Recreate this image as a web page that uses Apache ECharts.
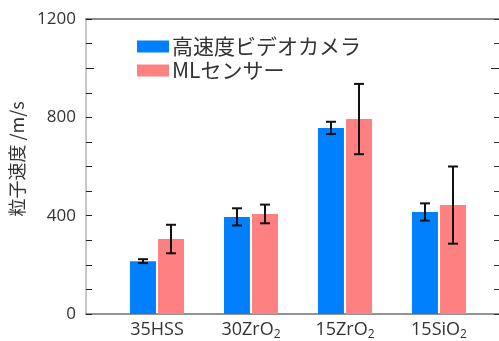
<!DOCTYPE html>
<html>
<head>
<meta charset="utf-8">
<script src="https://cdn.jsdelivr.net/npm/echarts@6/dist/echarts.min.js"></script>
<style>
  html, body { margin: 0; padding: 0; background: #fff; }
  #chart { width: 499px; height: 341px; }
</style>
</head>
<body>
<div id="chart"></div>
<script>
// Particle velocity measured by two methods, mean ± deviation (m/s)
const categories = ['35HSS', '30ZrO2', '15ZrO2', '15SiO2'];
const seriesNames = ['高速度ビデオカメラ', 'MLセンサー'];
const cameraMean = [215, 395, 757, 415];
const cameraErr = [8, 35, 25, 35];
const sensorMean = [305, 407, 793, 443];
const sensorErr = [58, 38, 143, 157];
const yTickLabels = [0, 400, 800, 1200];

const FONT = '"Open Sans", "Noto Sans CJK JP", sans-serif';
const JP_FONT = '"Noto Sans CJK JP", "Open Sans", sans-serif';
const BAR_W = 26;
const BAR_OFFSET = 14;

// Category label: chemical formulas get a subscript digit
function formatCategory(name) {
  const m = name.match(/^(.*[A-Za-z])(\d)$/);
  if (m && name !== '35HSS') return '{t|' + m[1] + '}{s|' + m[2] + '}';
  return '{t|' + name + '}';
}

function errorBars(means, errs, offset) {
  return {
    type: 'custom',
    xAxisIndex: 2,
    yAxisIndex: 4,
    z: 5,
    silent: true,
    data: means.map((m, i) => [i, m - errs[i], m + errs[i]]),
    renderItem: function (params, api) {
      const lo = api.coord([api.value(0), api.value(1)]);
      const hi = api.coord([api.value(0), api.value(2)]);
      const x = lo[0] + offset;
      const cap = 5;
      const style = { stroke: '#111', lineWidth: 2 };
      return {
        type: 'group',
        children: [
          { type: 'line', shape: { x1: x, y1: lo[1], x2: x, y2: hi[1] }, style: style },
          { type: 'line', shape: { x1: x - cap, y1: lo[1], x2: x + cap, y2: lo[1] }, style: style },
          { type: 'line', shape: { x1: x - cap, y1: hi[1], x2: x + cap, y2: hi[1] }, style: style }
        ]
      };
    }
  };
}

const chart = echarts.init(document.getElementById('chart'), null, { renderer: 'canvas' });

const frameGrid = { left: 86, right: 0, top: 19, bottom: 27 };
const barGrid = { left: 110, right: 13, top: 19, bottom: 27 };

function frameYAxis(extra) {
  return Object.assign({
    gridIndex: 0, type: 'value', min: 0, max: 1200,
    axisLine: { show: false, onZero: false },
    axisLabel: { show: false },
    splitLine: { show: false }
  }, extra);
}

chart.setOption({
  animation: false,
  backgroundColor: '#fff',
  grid: [frameGrid, barGrid],
  legend: {
    orient: 'vertical',
    left: 132,
    top: 31,
    icon: 'rect',
    itemWidth: 32,
    itemHeight: 12,
    itemGap: 3,
    data: seriesNames,
    textStyle: { fontFamily: JP_FONT, fontSize: 21, color: '#333', lineHeight: 21, padding: [0, 0, 0, -2] }
  },
  xAxis: [
    {
      gridIndex: 0, type: 'value', min: 0, max: 1, position: 'bottom',
      axisLine: { show: true, onZero: false, lineStyle: { color: '#707070', width: 1.5 } },
      axisTick: { show: false }, axisLabel: { show: false }, splitLine: { show: false }
    },
    {
      gridIndex: 0, type: 'value', min: 0, max: 1, position: 'top',
      axisLine: { show: true, onZero: false, lineStyle: { color: '#666', width: 1.5 } },
      axisTick: { show: false }, axisLabel: { show: false }, splitLine: { show: false }
    },
    {
      gridIndex: 1, type: 'category', data: categories,
      axisLine: { show: false, onZero: false }, axisTick: { show: false },
      axisLabel: {
        margin: 6,
        formatter: formatCategory,
        rich: {
          t: { fontFamily: FONT, fontSize: 18, color: '#333', lineHeight: 20 },
          s: { fontFamily: FONT, fontSize: 12, color: '#333', lineHeight: 20, padding: [10, 0, 0, 0] }
        }
      }
    }
  ],
  yAxis: [
    frameYAxis({
      interval: 100, position: 'left',
      name: '粒子速度 /m/s',
      nameLocation: 'middle',
      nameGap: 49,
      nameTextStyle: { fontFamily: JP_FONT, fontSize: 18, color: '#333', padding: [0, 0, 0, 15] },
      axisLine: { show: true, onZero: false, lineStyle: { color: '#c8c8c8', width: 2 } },
      axisTick: { show: true, inside: true, length: 6, lineStyle: { color: '#222', width: 1 } },
      axisLabel: {
        show: true,
        margin: 10,
        fontFamily: FONT, fontSize: 17, color: '#333',
        formatter: v => (yTickLabels.indexOf(v) >= 0 ? String(v) : '')
      }
    }),
    frameYAxis({
      interval: 100, position: 'right',
      axisTick: { show: true, inside: true, length: 5, lineStyle: { color: '#333', width: 1 } }
    }),
    frameYAxis({
      position: 'left',
      axisTick: { show: true, inside: true, length: 8, customValues: [1000], lineStyle: { color: '#222', width: 1 } }
    }),
    frameYAxis({
      position: 'right',
      axisTick: { show: true, inside: true, length: 8, customValues: [1000], lineStyle: { color: '#222', width: 1 } }
    }),
    {
      gridIndex: 1, type: 'value', min: 0, max: 1200, show: false
    }
  ],
  series: [
    {
      name: seriesNames[0], type: 'bar', xAxisIndex: 2, yAxisIndex: 4,
      data: cameraMean, barWidth: BAR_W, barGap: '8%',
      itemStyle: { color: '#0080ff' }
    },
    {
      name: seriesNames[1], type: 'bar', xAxisIndex: 2, yAxisIndex: 4,
      data: sensorMean, barWidth: BAR_W, barGap: '8%',
      itemStyle: { color: '#ff8080' }
    },
    errorBars(cameraMean, cameraErr, -BAR_OFFSET),
    errorBars(sensorMean, sensorErr, BAR_OFFSET)
  ]
});
</script>
</body>
</html>
